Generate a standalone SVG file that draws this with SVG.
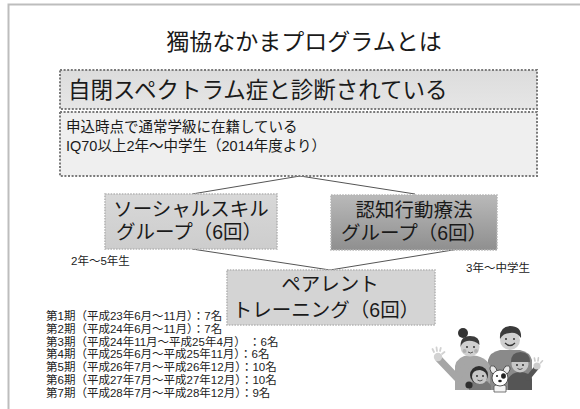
<svg xmlns="http://www.w3.org/2000/svg" width="580" height="409" viewBox="0 0 580 409">
  <defs>
    <linearGradient id="gBox1" x1="0" y1="0" x2="0" y2="1">
      <stop offset="0" stop-color="#dcdcdc"/>
      <stop offset="1" stop-color="#e6e6e6"/>
    </linearGradient>
    <linearGradient id="gSocial" x1="0" y1="0" x2="0" y2="1">
      <stop offset="0" stop-color="#d8d8d8"/>
      <stop offset="1" stop-color="#cdcdcd"/>
    </linearGradient>
    <linearGradient id="gCbt" x1="0" y1="0" x2="0" y2="1">
      <stop offset="0" stop-color="#b9b9b9"/>
      <stop offset="1" stop-color="#8f8f8f"/>
    </linearGradient>
    <style>
      text { font-family: "Liberation Sans", "Noto Sans CJK JP", sans-serif; fill: #1a1a1a; }
      .title { font-size: 23px; }
      .big { font-size: 22.5px; }
      .mid { font-size: 14.5px; }
      .node { font-size: 19.5px; }
      .small { font-size: 11.5px; fill: #222; }
      .dotDark { stroke: #7a7a7a; stroke-width: 2; stroke-dasharray: 2 1.6; }
      .dotLight { stroke: #b4b4b4; stroke-width: 1.6; stroke-dasharray: 1.6 1.2; }
      .link { stroke: #555; stroke-width: 1; fill: none; }
    </style>
  </defs>

  <rect width="580" height="409" fill="#ffffff"/>
  <!-- page frame -->
  <path d="M8.5 409 V4.5 H580" fill="none" stroke="#bdbdbd" stroke-width="2"/>

  <text class="title" x="304" y="50" text-anchor="middle">獨協なかまプログラムとは</text>

  <!-- connectors -->
  <g id="connectors">
    <path class="link" d="M300 176 L192 194"/>
    <path class="link" d="M300 176 L415 194"/>
    <path class="link" d="M192 249 L330 270"/>
    <path class="link" d="M459 249 L330 270"/>
  </g>

  <g id="diagnosis">
    <rect x="60" y="70" width="477" height="39" fill="url(#gBox1)" class="dotDark"/>
    <text class="big" x="68" y="98">自閉スペクトラム症と診断されている</text>
  </g>

  <g id="criteria">
    <rect x="60" y="112" width="477" height="64" fill="#efefef" class="dotDark"/>
    <text class="mid" x="66" y="132">申込時点で通常学級に在籍している</text>
    <text class="mid" x="66" y="151">IQ70以上2年～中学生（2014年度より）</text>
  </g>

  <g id="social-skill">
    <rect x="105" y="194" width="172" height="55" fill="url(#gSocial)" class="dotLight"/>
    <text class="node" x="191" y="216" text-anchor="middle">ソーシャルスキル</text>
    <text class="node" x="189" y="239" text-anchor="middle">グループ（6回）</text>
  </g>

  <g id="cbt">
    <rect x="331" y="195" width="166" height="55" fill="url(#gCbt)" class="dotLight"/>
    <text class="node" x="414" y="217" text-anchor="middle">認知行動療法</text>
    <text class="node" x="414" y="240" text-anchor="middle">グループ（6回）</text>
  </g>

  <text class="small" x="71" y="265">2年～5年生</text>
  <text class="small" x="466" y="272">3年～中学生</text>

  <g id="parent-training">
    <rect x="227" y="270" width="208" height="55" fill="#d4d4d4" class="dotLight"/>
    <text class="node" x="330" y="291" text-anchor="middle">ペアレント</text>
    <text class="node" x="326" y="317" text-anchor="middle">トレーニング（6回）</text>
  </g>

  <g id="sessions">
    <text class="small" x="46" y="320">第1期（平成23年6月～11月）：7名</text>
    <text class="small" x="46" y="332.8">第2期（平成24年6月～11月）：7名</text>
    <text class="small" x="46" y="345.6">第3期（平成24年11月～平成25年4月） ：6名</text>
    <text class="small" x="46" y="358.4">第4期（平成25年6月～平成25年11月）：6名</text>
    <text class="small" x="46" y="371.2">第5期（平成26年7月～平成26年12月）：10名</text>
    <text class="small" x="46" y="384">第6期（平成27年7月～平成27年12月）：10名</text>
    <text class="small" x="46" y="396.8">第7期（平成28年7月～平成28年12月）：9名</text>
  </g>

  <!-- family illustration -->
  <g id="family">
    <!-- dad -->
    <path d="M488 390 V360 Q490 352 500 350 H520 Q530 352 532 360 V390 Z" fill="#8a8a8a"/>
    <circle cx="510" cy="340" r="10" fill="#cfcfcf"/>
    <path d="M500 339 Q499 327 510 326 Q522 326 521 338 Q517 332 510 333 Q503 333 500 339 Z" fill="#3a3a3a"/>
    <path d="M505 343 Q510 348 515 343" fill="none" stroke="#333" stroke-width="1.2"/>
    <circle cx="506" cy="339" r="0.9" fill="#222"/>
    <circle cx="514" cy="339" r="0.9" fill="#222"/>
    <!-- mom -->
    <path d="M455 390 V366 Q457 356 470 355 Q486 356 490 366 V390 Z" fill="#a6a6a6"/>
    <path d="M438 358 L457 378 L466 366" fill="none" stroke="#a6a6a6" stroke-width="7" stroke-linejoin="round"/>
    <circle cx="438" cy="357" r="4.2" fill="#d2d2d2"/>
    <path d="M434 352 l-1.5 -3 M437 351 l-0.5 -3.5 M440 351 l0.8 -3.2 M442 354 l2.5 -2" stroke="#d2d2d2" stroke-width="1.8" stroke-linecap="round"/>
    <circle cx="463" cy="333" r="5" fill="#333"/>
    <circle cx="470" cy="347" r="9.5" fill="#d0d0d0"/>
    <path d="M460.5 347 Q460 336 470 336 Q480 336 479.5 345 Q474 340 467 341 Q462 342 460.5 347 Z" fill="#3c3c3c"/>
    <circle cx="467" cy="347" r="0.9" fill="#222"/>
    <circle cx="474" cy="347" r="0.9" fill="#222"/>
    <circle cx="464.5" cy="351" r="2" fill="#b2b2b2"/>
    <circle cx="476" cy="351" r="2" fill="#b2b2b2"/>
    <path d="M468 352 Q470.5 354 473 352" fill="none" stroke="#444" stroke-width="0.9"/>
    <!-- girl -->
    <path d="M469 390 V386 Q472 380 480 380 Q489 380 491 386 V390 Z" fill="#777"/>
    <circle cx="469" cy="385" r="3.6" fill="#2e2e2e"/>
    <circle cx="479" cy="375" r="9" fill="#2e2e2e"/>
    <path d="M472 377 Q472 370 480 370 Q487 371 487 378 Q486 384 479.5 384 Q473 384 472 377 Z" fill="#c8c8c8"/>
    <circle cx="477" cy="376" r="0.9" fill="#222"/>
    <circle cx="483" cy="376" r="0.9" fill="#222"/>
    <path d="M477.5 380 Q480 382 482.5 380" fill="none" stroke="#444" stroke-width="0.9"/>
    <!-- boy -->
    <path d="M508 390 V379 Q512 372 520 372 Q529 372 532 379 V390 Z" fill="#555"/>
    <path d="M528 378 L537 367" stroke="#555" stroke-width="5" stroke-linecap="round"/>
    <circle cx="537" cy="366" r="3.6" fill="#cccccc"/>
    <path d="M535 361 l-0.6 -3 M538 361 l0.4 -3.2 M540.5 363 l2 -2.2" stroke="#cccccc" stroke-width="1.6" stroke-linecap="round"/>
    <circle cx="520" cy="364" r="8.5" fill="#c8c8c8"/>
    <path d="M511 362 Q511 352 520.5 352 Q530 352 530 362 Z" fill="#5a5a5a"/>
    <circle cx="517" cy="365" r="0.9" fill="#222"/>
    <circle cx="523" cy="365" r="0.9" fill="#222"/>
    <path d="M517.5 368.5 Q520 370.5 522.5 368.5" fill="none" stroke="#444" stroke-width="0.9"/>
    <!-- dog -->
    <path d="M494 392 V386 Q500 382 506 386 V392 Z" fill="#f4f4f4" stroke="#555" stroke-width="0.8"/>
    <ellipse cx="493.5" cy="370" rx="3" ry="4.5" fill="#e8e8e8" stroke="#444" stroke-width="0.8" transform="rotate(-25 493.5 370)"/>
    <ellipse cx="506.5" cy="370" rx="3" ry="4.5" fill="#e8e8e8" stroke="#444" stroke-width="0.8" transform="rotate(25 506.5 370)"/>
    <circle cx="500" cy="378" r="8" fill="#ffffff" stroke="#444" stroke-width="0.9"/>
    <ellipse cx="503.5" cy="376" rx="2.4" ry="2.8" fill="#222"/>
    <circle cx="497" cy="376" r="1" fill="#222"/>
    <ellipse cx="500" cy="381" rx="1.8" ry="1.3" fill="#222"/>
  </g>
</svg>
